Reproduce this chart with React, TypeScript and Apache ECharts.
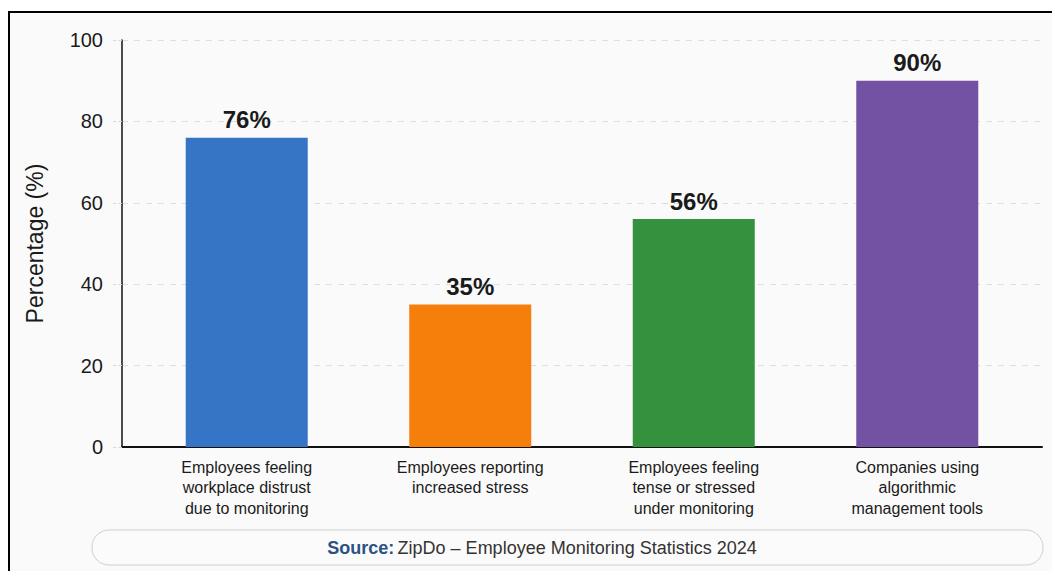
import React, { useEffect, useRef } from "react";
import * as echarts from "echarts";

const categories = [
  "Employees feeling\nworkplace distrust\ndue to monitoring",
  "Employees reporting\nincreased stress",
  "Employees feeling\ntense or stressed\nunder monitoring",
  "Companies using\nalgorithmic\nmanagement tools",
];
const values = [76, 35, 56, 90];
const barColors = ["#3675C6", "#F57F0A", "#36913F", "#7351A3"];
const yTicks = [0, 20, 40, 60, 80, 100];
const positions = [0, 1, 2, 3];

const FONT = "'Liberation Sans', Arial, Helvetica, sans-serif";

export default function App() {
  const ref = useRef<HTMLDivElement>(null);
  useEffect(() => {
    if (!ref.current) return;
    const chart = echarts.init(ref.current, null, { renderer: "svg" });
    chart.setOption({
      animation: false,
      textStyle: { fontFamily: FONT },
      grid: { left: 122, right: 10, top: 40, bottom: 124, containLabel: false },
      xAxis: {
        type: "value",
        min: -0.558,
        max: 3.558,
        axisLine: { show: true, onZero: false, lineStyle: { color: "#111", width: 2 } },
        axisTick: { show: false },
        splitLine: { show: false },
        axisLabel: {
          customValues: positions,
          formatter: (v: number) => categories[Math.round(v)] ?? "",
          color: "#1a1a1a",
          fontSize: 16,
          lineHeight: 20.5,
          margin: 10,
          align: "center",
        },
      },
      yAxis: {
        type: "value",
        min: 0,
        max: 100,
        interval: 20,
        name: "Percentage (%)",
        nameLocation: "middle",
        nameGap: 76,
        nameTextStyle: { fontSize: 23, color: "#1a1a1a", fontFamily: FONT },
        axisLine: { show: true, onZero: false, lineStyle: { color: "#111", width: 1.5 } },
        axisTick: { show: true, inside: false, length: 9, lineStyle: { color: "#d8d8d8", type: "dashed" } },
        axisLabel: {
          color: "#1a1a1a",
          fontSize: 20,
          margin: 19,
          formatter: (v: number) => (yTicks.includes(v) ? String(v) : ""),
        },
        splitLine: { show: true, lineStyle: { color: "#dedede", type: [6, 6], width: 1 } },
      },
      series: [
        {
          type: "bar",
          barWidth: 122,
          data: positions.map((p, i) => ({
            value: [p, values[i]],
            itemStyle: { color: barColors[i] },
          })),
          label: {
            show: true,
            position: "top",
            distance: 6,
            formatter: (p: any) => `${p.value[1]}%`,
            fontSize: 24,
            fontWeight: "bold",
            color: "#1a1a1a",
            fontFamily: FONT,
          },
        },
      ],
      graphic: [
        {
          type: "rect",
          shape: { x: 92, y: 530, width: 951, height: 35, r: 17 },
          style: { fill: "#fbfbfb", stroke: "#cfcfcf", lineWidth: 1 },
          z: 1,
        },
        {
          type: "text",
          x: 542,
          y: 548,
          z: 2,
          style: {
            text: "{b|Source:} {n|ZipDo – Employee Monitoring Statistics 2024}",
            align: "center",
            verticalAlign: "middle",
            rich: {
              b: { fontSize: 18, fontWeight: "bold", fill: "#2B5283", fontFamily: FONT },
              n: { fontSize: 18, fill: "#333", fontFamily: FONT },
            },
          },
        },
      ],
    });
    return () => chart.dispose();
  }, []);

  return (
    <div style={{ position: "fixed", left: 0, top: 0, width: 1052, height: 571, background: "#fff", overflow: "hidden" }}>
      <div
        style={{
          position: "absolute",
          left: 8,
          top: 11,
          width: 1100,
          height: 620,
          borderLeft: "2px solid #000",
          borderTop: "2px solid #000",
          background: "#fafafa",
        }}
      />
      <div ref={ref} style={{ position: "absolute", left: 0, top: 0, width: 1052, height: 571 }} />
    </div>
  );
}
